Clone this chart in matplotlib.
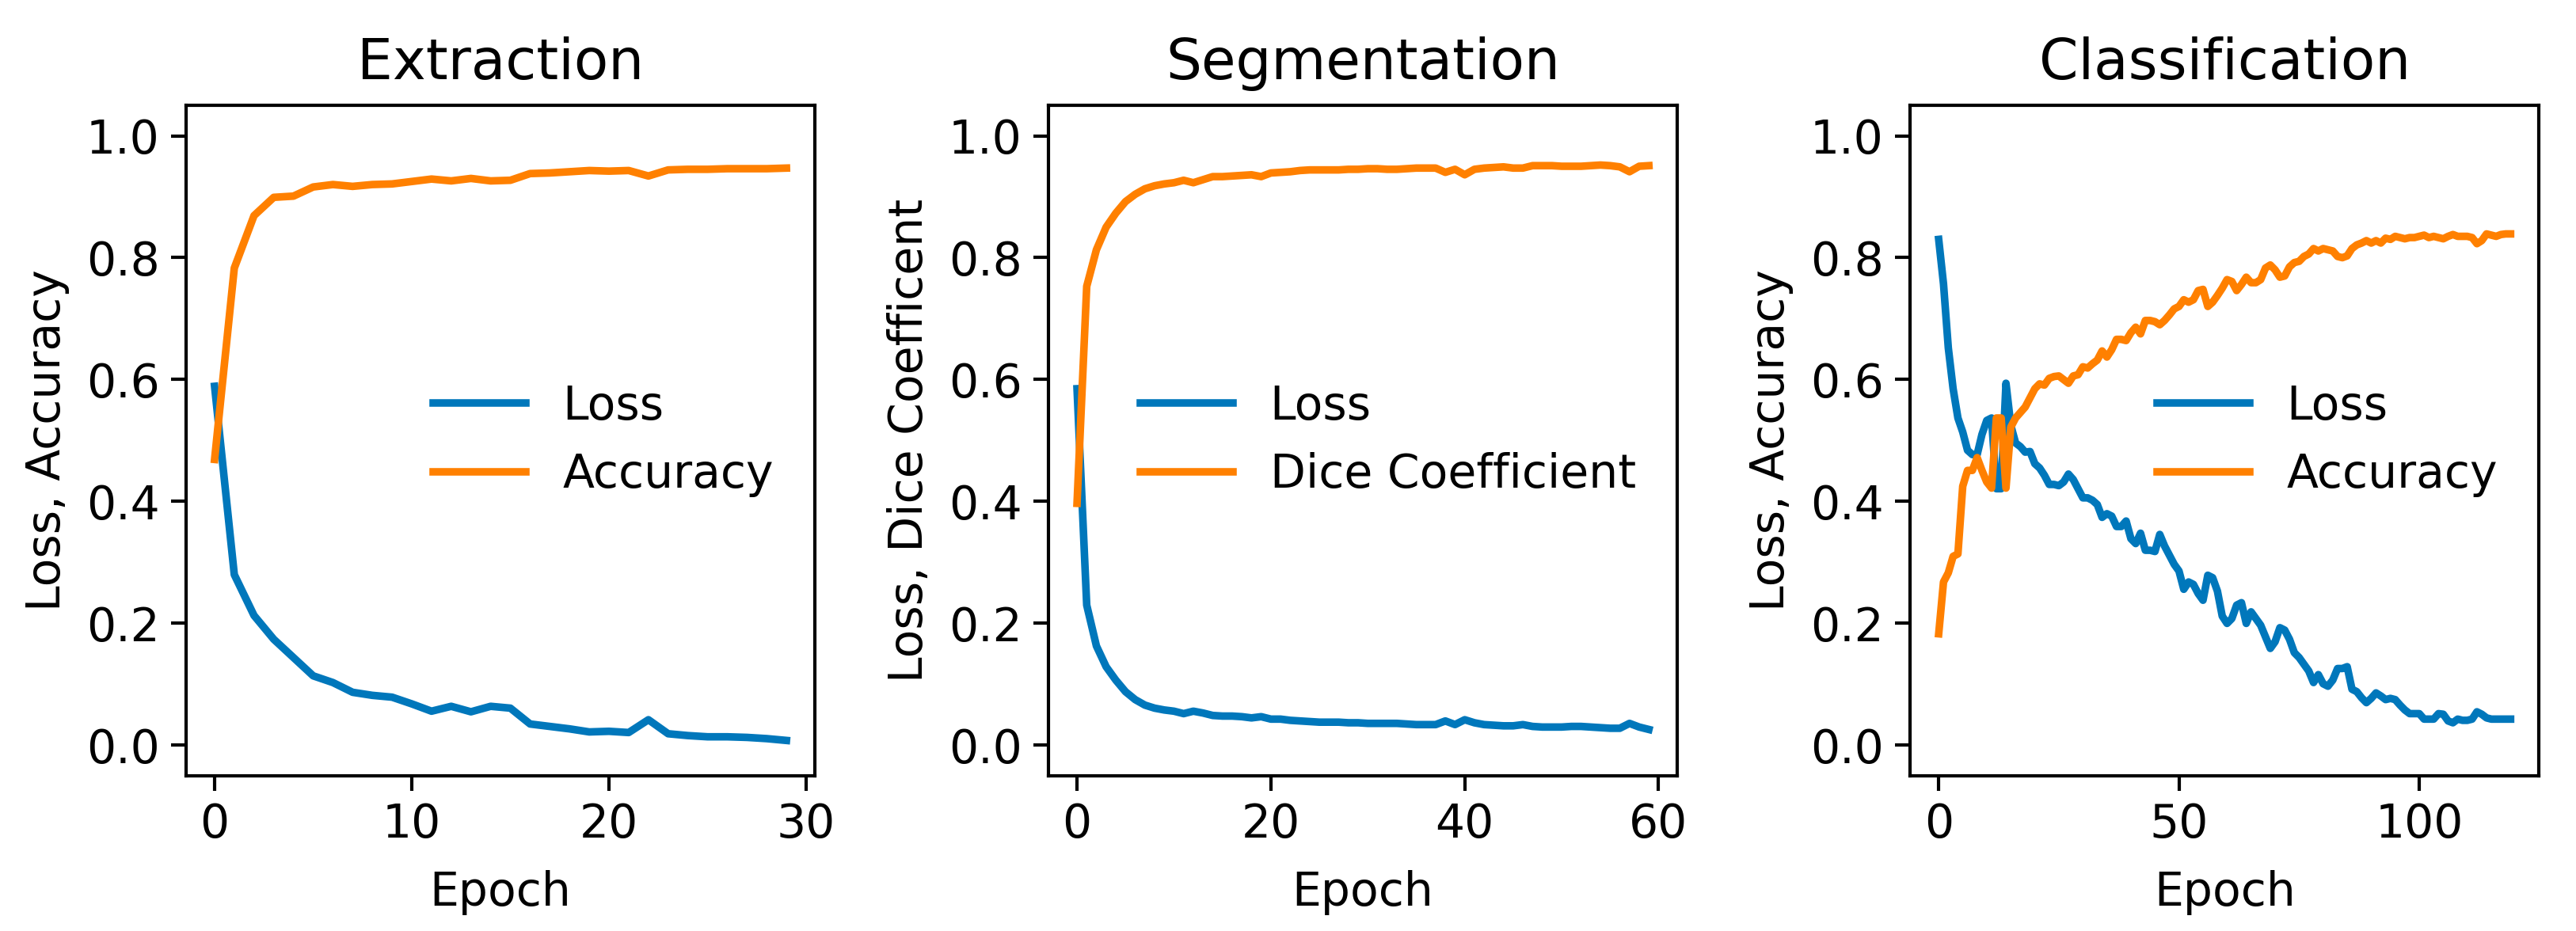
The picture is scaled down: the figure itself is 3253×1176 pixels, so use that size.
import numpy as np
import matplotlib.pyplot as plt

blue = "#0077bb"
orange = "#ff8000"

# Extraction (30 epochs)
ext_loss = [0.589, 0.280, 0.213, 0.174, 0.144, 0.114, 0.103, 0.087, 0.082, 0.079,
            0.068, 0.056, 0.064, 0.055, 0.064, 0.061, 0.035, 0.031, 0.027, 0.022,
            0.023, 0.021, 0.042, 0.019, 0.016, 0.014, 0.014, 0.013, 0.011, 0.008]
ext_acc = [0.469, 0.783, 0.869, 0.899, 0.901, 0.916, 0.920, 0.917, 0.920, 0.921,
           0.925, 0.929, 0.926, 0.930, 0.926, 0.927, 0.938, 0.939, 0.941, 0.943,
           0.942, 0.943, 0.934, 0.944, 0.945, 0.945, 0.946, 0.946, 0.946, 0.947]

# Segmentation (60 epochs)
seg_loss = [0.585, 0.230, 0.163, 0.129, 0.107, 0.088, 0.075, 0.066, 0.061, 0.058,
            0.056, 0.052, 0.056, 0.053, 0.049, 0.048, 0.048, 0.047, 0.045, 0.047,
            0.043, 0.043, 0.041, 0.040, 0.039, 0.038, 0.038, 0.038, 0.037, 0.037,
            0.036, 0.036, 0.036, 0.036, 0.035, 0.034, 0.034, 0.034, 0.040, 0.034,
            0.042, 0.037, 0.034, 0.033, 0.032, 0.032, 0.034, 0.031, 0.030, 0.030,
            0.030, 0.031, 0.031, 0.030, 0.029, 0.028, 0.028, 0.036, 0.030, 0.026]
seg_dice = [0.397, 0.753, 0.813, 0.850, 0.873, 0.892, 0.904, 0.913, 0.918, 0.921,
            0.923, 0.927, 0.923, 0.928, 0.933, 0.933, 0.934, 0.935, 0.936, 0.933,
            0.939, 0.940, 0.941, 0.943, 0.944, 0.944, 0.944, 0.944, 0.945, 0.945,
            0.946, 0.946, 0.945, 0.945, 0.946, 0.947, 0.947, 0.947, 0.940, 0.945,
            0.936, 0.945, 0.947, 0.948, 0.949, 0.947, 0.947, 0.951, 0.951, 0.951,
            0.950, 0.950, 0.950, 0.951, 0.952, 0.951, 0.949, 0.941, 0.950, 0.951]

# Classification (120 epochs)
cls_loss = [0.830, 0.757, 0.652, 0.585, 0.537, 0.514, 0.484, 0.477, 0.477, 0.510,
            0.533, 0.537, 0.421, 0.421, 0.594, 0.525, 0.496, 0.490, 0.481, 0.482,
            0.462, 0.455, 0.443, 0.428, 0.428, 0.426, 0.432, 0.445, 0.436, 0.421,
            0.406, 0.406, 0.402, 0.395, 0.374, 0.380, 0.376, 0.359, 0.359, 0.368,
            0.339, 0.331, 0.348, 0.320, 0.320, 0.318, 0.346, 0.327, 0.312, 0.297,
            0.286, 0.256, 0.268, 0.264, 0.249, 0.238, 0.279, 0.275, 0.253, 0.212,
            0.200, 0.208, 0.230, 0.234, 0.200, 0.219, 0.208, 0.197, 0.178, 0.159,
            0.170, 0.193, 0.189, 0.174, 0.152, 0.144, 0.133, 0.122, 0.103, 0.116,
            0.101, 0.097, 0.107, 0.126, 0.126, 0.129, 0.092, 0.088, 0.078, 0.070,
            0.077, 0.086, 0.081, 0.075, 0.077, 0.075, 0.066, 0.058, 0.052, 0.052,
            0.052, 0.043, 0.043, 0.043, 0.052, 0.051, 0.040, 0.037, 0.043, 0.041,
            0.041, 0.043, 0.055, 0.051, 0.045, 0.043, 0.043, 0.043, 0.043, 0.043]
cls_acc = [0.183, 0.268, 0.283, 0.310, 0.314, 0.425, 0.451, 0.451, 0.472, 0.451,
           0.432, 0.422, 0.537, 0.537, 0.422, 0.522, 0.537, 0.546, 0.555, 0.570,
           0.585, 0.593, 0.591, 0.602, 0.605, 0.606, 0.600, 0.594, 0.606, 0.608,
           0.621, 0.619, 0.626, 0.632, 0.647, 0.637, 0.649, 0.666, 0.666, 0.664,
           0.677, 0.686, 0.675, 0.697, 0.697, 0.695, 0.690, 0.697, 0.706, 0.716,
           0.720, 0.731, 0.727, 0.731, 0.746, 0.748, 0.720, 0.727, 0.738, 0.750,
           0.764, 0.761, 0.746, 0.756, 0.768, 0.759, 0.759, 0.764, 0.783, 0.788,
           0.780, 0.768, 0.770, 0.785, 0.792, 0.794, 0.802, 0.806, 0.815, 0.811,
           0.815, 0.813, 0.811, 0.802, 0.800, 0.803, 0.815, 0.821, 0.824, 0.828,
           0.824, 0.828, 0.824, 0.832, 0.830, 0.835, 0.833, 0.831, 0.833, 0.833,
           0.835, 0.837, 0.833, 0.835, 0.833, 0.831, 0.835, 0.838, 0.835, 0.835,
           0.835, 0.833, 0.823, 0.828, 0.839, 0.837, 0.835, 0.838, 0.839, 0.839]

panels = [
    ("Extraction", ext_loss, ext_acc, "Accuracy", "Loss, Accuracy", [0, 10, 20, 30]),
    ("Segmentation", seg_loss, seg_dice, "Dice Coefficient", "Loss, Dice Coefficent", [0, 20, 40, 60]),
    ("Classification", cls_loss, cls_acc, "Accuracy", "Loss, Accuracy", [0, 50, 100]),
]

plt.rcParams['font.family'] = 'DejaVu Sans'

fig = plt.figure(figsize=(3253 / 300, 1176 / 300), dpi=300)
lefts = [0.0722, 0.407, 0.7415]

for left, (title, loss, metric, mname, ylab, xt) in zip(lefts, panels):
    ax = fig.add_axes([left, 0.1667, 0.2442, 0.7202])
    ep = np.arange(len(loss))
    ax.plot(ep, loss, color=blue, lw=2.3, label="Loss")
    ax.plot(ep, metric, color=orange, lw=2.3, label=mname)
    ax.set_ylim(-0.05, 1.05)
    ax.set_yticks([0.0, 0.2, 0.4, 0.6, 0.8, 1.0])
    ax.set_xticks(xt)
    ax.set_title(title, fontsize=17, pad=8)
    ax.set_xlabel("Epoch", fontsize=14, labelpad=7)
    ax.set_ylabel(ylab, fontsize=14, labelpad=5)
    ax.tick_params(labelsize=14, length=4.5, width=1.0)
    for s in ax.spines.values():
        s.set_linewidth(1.0)
    ax.legend(loc="center right", frameon=False, fontsize=14)

fig.savefig("out.png", dpi=300)
